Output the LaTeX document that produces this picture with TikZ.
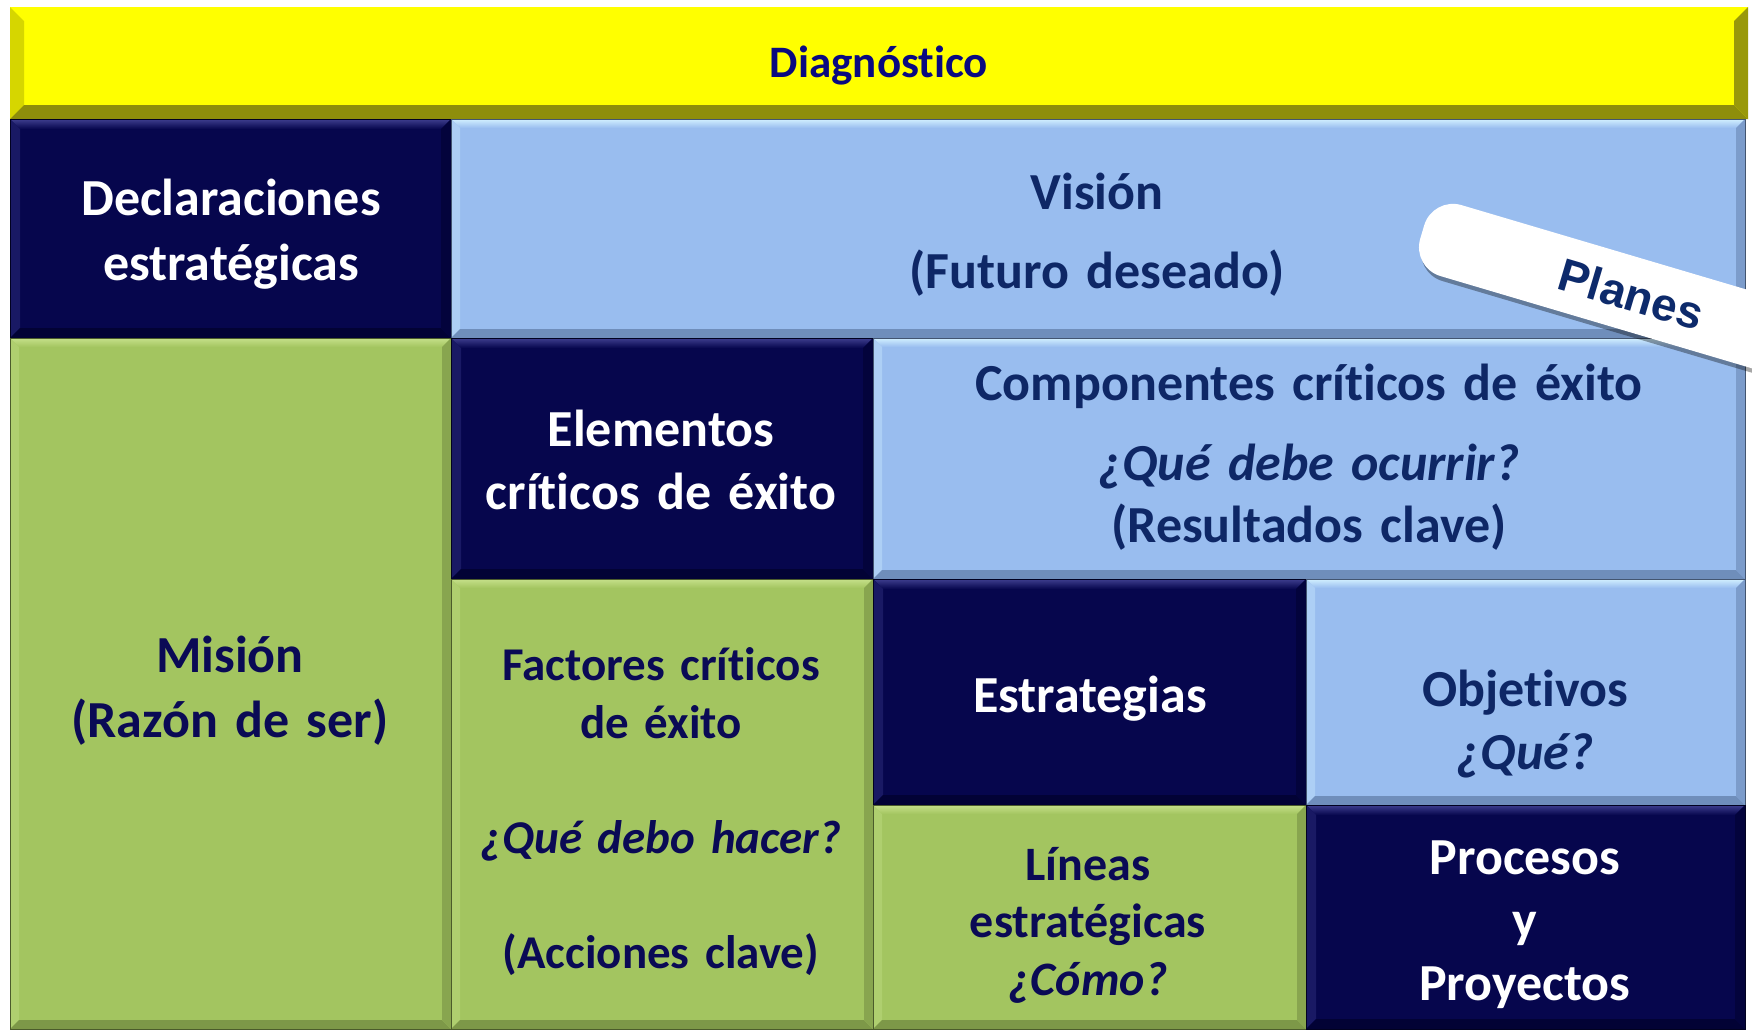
\documentclass[tikz,border=0pt]{standalone}
\usepackage{fontspec}
\setmainfont{Carlito}[Ligatures={TeX,NoCommon}]
\newfontfamily\arialfont{Liberation Sans}
\usetikzlibrary{shadows}
\definecolor{navy}{HTML}{06064D}
\definecolor{navyhi}{HTML}{3E3E8E}
\definecolor{navylo}{HTML}{020235}
\definecolor{lblue}{HTML}{99BDEF}
\definecolor{lbluehi}{HTML}{D2F0FF}
\definecolor{lbluelo}{HTML}{6F8EBB}
\definecolor{green}{HTML}{A3C560}
\definecolor{greenhi}{HTML}{C6E08A}
\definecolor{greenlo}{HTML}{7D9848}
\definecolor{yellowc}{HTML}{FFFF00}
\definecolor{yellowleft}{HTML}{D6D600}
\definecolor{yellowlo}{HTML}{8E8E0B}
\definecolor{diagtext}{HTML}{0A0A80}
\definecolor{bluetext}{HTML}{0E2766}
\definecolor{greentext}{HTML}{0A0A55}
\definecolor{planestext}{HTML}{0D2A6B}
\newcommand{\bev}[5]{%
 \shade[top color=#3, bottom color=#2] (#1.north west) -- (#1.north east) -- ([xshift=-#5,yshift=-#5]#1.north east) -- ([xshift=#5,yshift=-#5]#1.north west) -- cycle;
 \fill[#3!35!#2] (#1.north west) -- ([xshift=#5,yshift=-#5]#1.north west) -- ([xshift=#5,yshift=#5]#1.south west) -- (#1.south west) -- cycle;
 \fill[#4] (#1.south west) -- (#1.south east) -- ([xshift=-#5,yshift=#5]#1.south east) -- ([xshift=#5,yshift=#5]#1.south west) -- cycle;
 \fill[#4!70!#2] (#1.north east) -- (#1.south east) -- ([xshift=-#5,yshift=#5]#1.south east) -- ([xshift=-#5,yshift=-#5]#1.north east) -- cycle;
 \draw[#4!60!black, line width=1pt] (#1.north west) rectangle (#1.south east);
}
\tikzset{
 cell/.style={inner sep=0pt, outer sep=0pt, anchor=north west, draw=none},
 lbl/.style={anchor=base, align=center, inner sep=0pt, text width=#1pt},
}
\begin{document}
\begin{tikzpicture}[x=1pt,y=-1pt]
\useasboundingbox (0,0) rectangle (1752,1029);
\fill[white] (0,0) rectangle (1752,1029);
\clip (0,0) rectangle (1752,1029);

% Diagnostico bar
\node[cell, fill=yellowc, minimum width=1738pt, minimum height=112pt] (diag) at (10,7) {};
\fill[yellowleft] (diag.north west) -- ([xshift=14pt,yshift=-14pt]diag.north west) -- ([xshift=14pt,yshift=14pt]diag.south west) -- (diag.south west) -- cycle;
\fill[yellowlo] (diag.south west) -- (diag.south east) -- ([xshift=-14pt,yshift=14pt]diag.south east) -- ([xshift=14pt,yshift=14pt]diag.south west) -- cycle;
\fill[yellowlo!90!yellowc] (diag.north east) -- (diag.south east) -- ([xshift=-14pt,yshift=14pt]diag.south east) -- ([xshift=-14pt,yshift=-14pt]diag.north east) -- cycle;
\node[anchor=base, inner sep=0pt, text=diagtext, font=\bfseries\fontsize{45}{52}\selectfont] (diagT) at (879,77) {Diagnóstico};

% cells
\node[cell, fill=navy, minimum width=441pt, minimum height=219pt] (decl) at (10,119) {};
\bev{decl}{navy}{navyhi}{navylo}{10pt}
\node[cell, fill=lblue, minimum width=1294pt, minimum height=219pt] (vision) at (451,119) {};
\bev{vision}{lblue}{lbluehi}{lbluelo}{9pt}
\node[cell, fill=green, minimum width=441pt, minimum height=691pt] (mision) at (10,338) {};
\bev{mision}{green}{greenhi}{greenlo}{9pt}
\node[cell, fill=navy, minimum width=422pt, minimum height=241pt] (elem) at (451,338) {};
\bev{elem}{navy}{navyhi}{navylo}{10pt}
\node[cell, fill=lblue, minimum width=872pt, minimum height=241pt] (comp) at (873,338) {};
\bev{comp}{lblue}{lbluehi}{lbluelo}{9pt}
\node[cell, fill=green, minimum width=422pt, minimum height=450pt] (fact) at (451,579) {};
\bev{fact}{green}{greenhi}{greenlo}{9pt}
\node[cell, fill=navy, minimum width=433pt, minimum height=226pt] (estr) at (873,579) {};
\bev{estr}{navy}{navyhi}{navylo}{10pt}
\node[cell, fill=lblue, minimum width=439pt, minimum height=226pt] (obj) at (1306,579) {};
\bev{obj}{lblue}{lbluehi}{lbluelo}{9pt}
\node[cell, fill=green, minimum width=433pt, minimum height=224pt] (lin) at (873,805) {};
\bev{lin}{green}{greenhi}{greenlo}{9pt}
\node[cell, fill=navy, minimum width=439pt, minimum height=224pt] (proc) at (1306,805) {};
\bev{proc}{navy}{navyhi}{navylo}{10pt}

% texts
\node[lbl=420, text=white, font=\bfseries\fontsize{52}{65}\selectfont] (declT) at (231,215) {Declaraciones\\estratégicas};
\node[lbl=420, text=bluetext, font=\bfseries\fontsize{52}{79}\selectfont] (visT) at (1097,209) {Visión\\(Futuro deseado)};
\node[lbl=700, text=bluetext, font=\bfseries\fontsize{52}{62}\selectfont] (compT) at (1309,400) {Componentes críticos de éxito\\[18pt]\textit{¿Qué debe ocurrir?}\\(Resultados clave)};
\node[lbl=410, text=white, font=\bfseries\fontsize{52}{63}\selectfont] (elemT) at (661,446) {Elementos\\críticos de éxito};
\node[lbl=420, text=greentext, font=\bfseries\fontsize{52}{65}\selectfont] (misT) at (230,672) {Misión\\(Razón de ser)};
\node[lbl=410, text=greentext, font=\bfseries\fontsize{47}{58}\selectfont] (factT) at (661,680) {Factores críticos\\de éxito\\[57pt]\textit{¿Qué debo hacer?}\\[57pt](Acciones clave)};
\node[lbl=420, text=white, font=\bfseries\fontsize{52}{64}\selectfont] (estrT) at (1090,712) {Estrategias};
\node[lbl=420, text=bluetext, font=\bfseries\fontsize{52}{63}\selectfont] (objT) at (1525,706) {Objetivos\\\textit{¿Qué?}};
\node[lbl=420, text=greentext, font=\bfseries\fontsize{48}{57.5}\selectfont] (linT) at (1088,880) {Líneas\\estratégicas\\\textit{¿Cómo?}};
\node[lbl=420, text=white, font=\bfseries\fontsize{52}{63}\selectfont] (procT) at (1525,874) {Procesos\\y\\Proyectos};

% Planes tab
\node[fill=white, rounded corners=30pt, minimum width=436pt, minimum height=74pt, rotate=-16.5, anchor=west, inner sep=0pt, text=planestext, font=\arialfont\bfseries\fontsize{46}{50}\selectfont, drop shadow={shadow xshift=2pt, shadow yshift=-5pt, opacity=0.35, fill=black}] (tab) at (1422,232) {Planes};
\end{tikzpicture}
\end{document}
